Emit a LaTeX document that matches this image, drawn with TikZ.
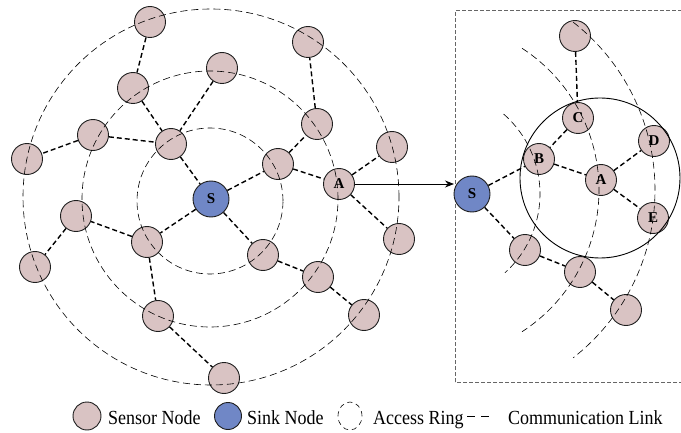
\documentclass[tikz,border=0pt]{standalone}
\usepackage{fontspec}
\setmainfont{Liberation Serif}
\usetikzlibrary{arrows.meta}
\definecolor{sensorfill}{RGB}{217,195,195}
\definecolor{sinkfill}{RGB}{112,135,198}
\definecolor{edgegray}{RGB}{30,30,30}
\newcommand{\legendlabel}[1]{\scalebox{0.9}[1]{#1}}
\tikzset{
  sensor/.style={circle, draw=edgegray, line width=0.9pt, fill=sensorfill,
    minimum size=31pt, inner sep=0pt, font=\fontsize{15}{15}\selectfont\bfseries},
  sink/.style={sensor, fill=sinkfill, minimum size=36pt},
  link/.style={line width=1.4pt, dash pattern=on 5pt off 3pt},
  ring/.style={line width=0.6pt, dash pattern=on 7pt off 4pt},
  legtext/.style={anchor=base west, inner sep=0pt, font=\fontsize{20}{20}\selectfont}
}
\begin{document}
\begin{tikzpicture}[x=1pt,y=1pt]
\useasboundingbox (0,0) rectangle (681,432);

% ---------- network around the sink ----------
\node[sensor] (n1)  at (150,410) {};
\node[sensor] (n2)  at (133,344) {};
\node[sensor] (n3)  at (222,364) {};
\node[sensor] (n4)  at (93,297) {};
\node[sensor] (n5)  at (27,273) {};
\node[sensor] (n6)  at (171,288) {};
\node[sink]   (s)   at (211,233) {S};
\node[sensor] (n8)  at (308,390) {};
\node[sensor] (n9)  at (317,308) {};
\node[sensor] (n10) at (278,268) {};
\node[sensor] (a)   at (339,248) {A};
\node[sensor] (n12) at (392,285) {};
\node[sensor] (n13) at (76,216) {};
\node[sensor] (n14) at (35,165) {};
\node[sensor] (n15) at (147,190) {};
\node[sensor] (n16) at (158,116) {};
\node[sensor] (n17) at (224,54) {};
\node[sensor] (n18) at (263,177) {};
\node[sensor] (n19) at (318,155) {};
\node[sensor] (n20) at (399,193) {};
\node[sensor] (n21) at (364,117) {};

% access rings
\draw[ring] (210,231) circle[radius=73];
\draw[ring] (210,233) circle[radius=128];
\draw[ring] (211,235) circle[radius=188];

% communication links
\draw[link] (n1) -- (n2);
\draw[link] (n2) -- (n6);
\draw[link] (n3) -- (n6);
\draw[link] (n4) -- (n6);
\draw[link] (n4) -- (n5);
\draw[link] (n6) -- (s);
\draw[link] (s) -- (n10);
\draw[link] (n10) -- (n9);
\draw[link] (n9) -- (n8);
\draw[link] (n10) -- (a);
\draw[link] (a) -- (n12);
\draw[link] (a) -- (n20);
\draw[link] (s) -- (n15);
\draw[link] (n15) -- (n13);
\draw[link] (n13) -- (n14);
\draw[link] (n15) -- (n16);
\draw[link] (n16) -- (n17);
\draw[link] (s) -- (n18);
\draw[link] (n18) -- (n19);
\draw[link] (n19) -- (n21);

% ---------- detail panel ----------
\draw[draw=black!60, line width=1pt, dash pattern=on 4pt off 2pt] (455,50) rectangle (684,421);
\coordinate (boxedge) at (454,247);
\draw[line width=0.9pt, -{Stealth[length=9pt,width=7pt]}] (a) -- (a -| boxedge);

\node[sink]   (s2) at (472,238) {S};
\node[sensor] (t)  at (575,396) {};
\node[sensor] (c)  at (578,314) {C};
\node[sensor] (b)  at (539,273) {B};
\node[sensor] (d)  at (654,291) {D};
\node[sensor] (a2) at (601,252) {A};
\node[sensor] (e)  at (653,214) {E};
\node[sensor] (m1) at (525,182) {};
\node[sensor] (m2) at (580,160) {};
\node[sensor] (m3) at (626,122) {};

% neighbourhood of A
\draw[line width=0.9pt] (600,254) circle[radius=80];

% ring segments
\draw[ring] (434,238) ++(49:106) arc[start angle=49, end angle=-48, radius=106];
\draw[ring] (430,242) ++(57:169) arc[start angle=57, end angle=-57, radius=169];
\draw[ring] (442,242) ++(52:213) arc[start angle=52, end angle=-52, radius=213];

\draw[link] (s2) -- (b);
\draw[link] (t) -- (c);
\draw[link] (c) -- (b);
\draw[link] (b) -- (a2);
\draw[link] (a2) -- (d);
\draw[link] (a2) -- (e);
\draw[link] (s2) -- (m1);
\draw[link] (m1) -- (m2);
\draw[link] (m2) -- (m3);

% ---------- legend ----------
\node[sensor, minimum size=28pt] (lsensor) at (87,16) {};
\node[legtext] (tsensor) at (108,8) {\legendlabel{Sensor Node}};
\node[sink, minimum size=27pt] (lsink) at (228,16) {};
\node[legtext] (tsink) at (247,8) {\legendlabel{Sink Node}};
\draw[line width=0.6pt, dash pattern=on 5pt off 4pt] (350,16) ellipse[x radius=12, y radius=14];
\node[legtext] (tring) at (373,8) {\legendlabel{Access Ring}};
\coordinate (llinka) at (467,16);
\coordinate (llinkb) at (491,16);
\draw[line width=1pt, dash pattern=on 8pt off 6pt] (llinka) -- (llinkb);
\node[legtext] (tlink) at (508,8) {\legendlabel{Communication Link}};
\end{tikzpicture}
\end{document}
